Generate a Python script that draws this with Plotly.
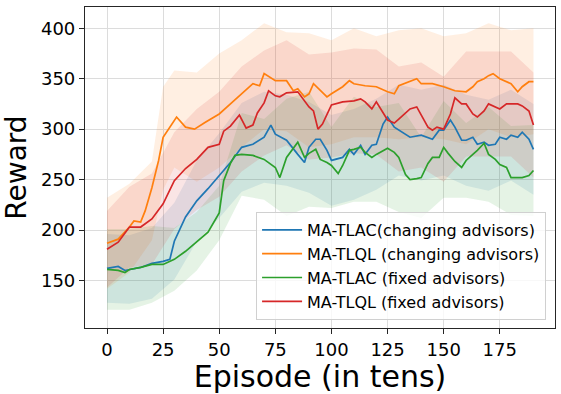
import plotly.graph_objects as go

# matplotlib tab10
COLORES = {
    "blue": "#1f77b4",
    "orange": "#ff7f0e",
    "green": "#2ca02c",
    "red": "#d62728",
}
RELLENO = {
    "blue": "rgba(31,119,180,0.12)",
    "orange": "rgba(255,127,14,0.12)",
    "green": "rgba(44,160,44,0.12)",
    "red": "rgba(214,39,40,0.12)",
}

# --- medias ---
tlac_chg_x = [0, 5, 8, 10, 15, 20, 25, 28, 30, 35, 40, 45, 50, 55, 60, 65, 70, 73, 75, 80,
              85, 88, 90, 93, 95, 98, 100, 105, 108, 110, 113, 115, 118, 120, 123, 125, 128,
              130, 135, 140, 145, 148, 150, 153, 155, 158, 160, 163, 165, 168, 170, 173, 175,
              178, 180, 183, 185, 188, 190]
tlac_chg_y = [162, 164, 160, 161, 163, 167, 169, 171, 189, 213, 229, 241, 254, 267, 282, 285,
              292, 304, 295, 289, 275, 267, 282, 290, 290, 279, 269, 272, 280, 275, 284, 275,
              284, 285, 305, 312, 302, 299, 292, 294, 290, 299, 299, 309, 302, 289, 289, 292,
              285, 287, 284, 285, 292, 290, 294, 292, 297, 290, 280]

tlql_chg_x = [0, 5, 10, 12, 15, 17, 20, 23, 25, 27, 31, 35, 39, 44, 50, 55, 60, 65, 68, 70,
              75, 80, 83, 85, 88, 90, 92, 95, 98, 100, 105, 108, 110, 115, 120, 125, 128, 130,
              135, 138, 140, 145, 150, 155, 160, 163, 165, 168, 170, 172, 175, 178, 180, 183,
              185, 188, 190]
tlql_chg_y = [187, 191, 203, 209, 208, 219, 242, 269, 292, 299, 312, 302, 300, 307, 315, 325,
              335, 345, 343, 355, 348, 348, 338, 340, 332, 335, 345, 338, 332, 335, 342, 348,
              345, 343, 342, 337, 335, 343, 347, 350, 345, 345, 342, 338, 337, 342, 347, 350,
              353, 355, 350, 347, 345, 337, 342, 347, 347]

tlac_fix_x = [0, 5, 8, 10, 15, 20, 25, 30, 35, 40, 45, 50, 52, 55, 57, 60, 65, 70, 75, 77,
              80, 85, 88, 90, 93, 95, 98, 100, 103, 105, 108, 110, 113, 115, 118, 120, 123,
              125, 128, 130, 133, 135, 138, 140, 143, 145, 148, 150, 152, 155, 158, 160, 163,
              165, 168, 170, 173, 175, 178, 180, 183, 185, 188, 190]
tlac_fix_y = [161, 160, 158, 161, 163, 166, 166, 171, 179, 189, 198, 217, 249, 266, 274, 275,
              274, 270, 262, 252, 272, 287, 272, 276, 280, 270, 267, 264, 256, 264, 279, 280,
              282, 277, 272, 275, 279, 281, 277, 272, 255, 250, 251, 252, 266, 272, 272, 282,
              276, 268, 262, 269, 275, 279, 286, 275, 270, 265, 262, 252, 252, 252, 254, 259]

tlql_fix_x = [0, 5, 10, 15, 20, 25, 30, 35, 40, 45, 50, 52, 55, 59, 62, 65, 67, 70, 72, 75,
              77, 80, 85, 88, 90, 92, 94, 96, 98, 100, 105, 110, 113, 115, 118, 120, 125, 128,
              130, 135, 138, 140, 143, 145, 147, 150, 153, 155, 158, 160, 163, 165, 168, 170,
              175, 178, 180, 183, 185, 188, 190]
tlql_fix_y = [181, 188, 203, 203, 211, 226, 249, 261, 270, 282, 285, 298, 303, 314, 301, 304,
              316, 326, 338, 333, 332, 336, 337, 328, 322, 318, 300, 305, 315, 324, 327, 328,
              330, 327, 320, 327, 309, 306, 310, 320, 322, 314, 302, 299, 302, 300, 315, 331,
              325, 325, 315, 312, 318, 325, 320, 325, 325, 325, 323, 318, 304]

# --- bandas (límite superior / inferior) ---
banda_x = [0, 10, 20, 30, 40, 50, 60, 70, 80, 90, 100, 110, 120, 130, 140, 150, 160, 170,
           180, 190]

tlac_chg_sup = [196, 195, 202, 227, 269, 296, 326, 337, 334, 327, 314, 320, 330, 344, 339,
                344, 334, 329, 339, 325]
tlac_chg_inf = [128, 127, 132, 151, 189, 212, 238, 247, 244, 237, 224, 230, 240, 254, 249,
                254, 244, 239, 249, 235]

tlql_banda_x = [0, 10, 20, 25, 30, 40, 50, 60, 70, 80, 90, 100, 110, 120, 130, 140, 150, 160,
                170, 180, 190]
tlql_chg_sup = [232, 246, 268, 342, 358, 356, 375, 388, 405, 396, 395, 388, 400, 392, 398,
                400, 392, 395, 405, 398, 400]
tlql_chg_inf = [142, 158, 190, 240, 262, 248, 262, 282, 300, 298, 282, 285, 292, 292, 290,
                292, 290, 285, 300, 292, 295]

tlac_fix_sup = [201, 201, 204, 202, 218, 244, 316, 310, 330, 337, 302, 332, 322, 326, 292,
                328, 306, 322, 303, 304]
tlac_fix_inf = [121, 121, 128, 140, 160, 190, 234, 230, 214, 223, 222, 228, 228, 218, 212,
                232, 232, 228, 215, 214]

tlql_fix_sup = [219, 243, 256, 297, 320, 337, 362, 378, 388, 374, 376, 380, 379, 362, 366,
                352, 377, 377, 377, 356]
tlql_fix_inf = [143, 163, 166, 201, 220, 233, 258, 274, 284, 270, 272, 276, 275, 258, 262,
                248, 273, 273, 273, 252]

x_ticks = [0, 25, 50, 75, 100, 125, 150, 175]
y_ticks = [150, 200, 250, 300, 350, 400]

series = [
    ("MA-TLAC(changing advisors)", "blue", tlac_chg_x, tlac_chg_y,
     banda_x, tlac_chg_sup, tlac_chg_inf),
    ("MA-TLQL (changing advisors)", "orange", tlql_chg_x, tlql_chg_y,
     tlql_banda_x, tlql_chg_sup, tlql_chg_inf),
    ("MA-TLAC (fixed advisors)", "green", tlac_fix_x, tlac_fix_y,
     banda_x, tlac_fix_sup, tlac_fix_inf),
    ("MA-TLQL (fixed advisors)", "red", tlql_fix_x, tlql_fix_y,
     banda_x, tlql_fix_sup, tlql_fix_inf),
]

fig = go.Figure()

for nombre, col, x, y, bx, sup, inf in series:
    fig.add_trace(go.Scatter(
        x=bx + bx[::-1], y=sup + inf[::-1],
        fill="toself", fillcolor=RELLENO[col],
        line=dict(width=0), mode="lines",
        showlegend=False, hoverinfo="skip",
    ))

for nombre, col, x, y, bx, sup, inf in series:
    fig.add_trace(go.Scatter(
        x=x, y=y, name=nombre, mode="lines",
        line=dict(color=COLORES[col], width=1.7),
    ))

eje = dict(
    showline=True, mirror=True, linecolor="#262626", linewidth=1.2,
    ticks="outside", ticklen=5, tickcolor="#262626",
    showgrid=True, gridcolor="#dcdcdc", gridwidth=1,
    zeroline=False, automargin=False,
    tickfont=dict(size=18, color="black"),
)

fig.update_layout(
    width=561, height=394,
    margin=dict(l=85, r=6, t=7, b=66),
    paper_bgcolor="white", plot_bgcolor="white",
    font=dict(family="DejaVu Sans", color="black"),
    xaxis=dict(**eje, range=[-9.8, 199.6], tickvals=x_ticks,
               title=dict(text="Episode (in tens)", font=dict(size=30), standoff=2)),
    yaxis=dict(**eje, range=[103, 421], tickvals=y_ticks,
               title=dict(text="Reward", font=dict(size=28), standoff=6)),
    legend=dict(
        x=0.981, y=0.025, xanchor="right", yanchor="bottom",
        bgcolor="rgba(255,255,255,0.8)", bordercolor="#d0d0d0", borderwidth=1,
        font=dict(size=16, color="black"),
        itemwidth=40,
    ),
)

# el body del navegador trae 8px de margen por defecto
fig.write_html("out.html", config={"displayModeBar": False},
               post_script="document.body.style.margin='0';")
